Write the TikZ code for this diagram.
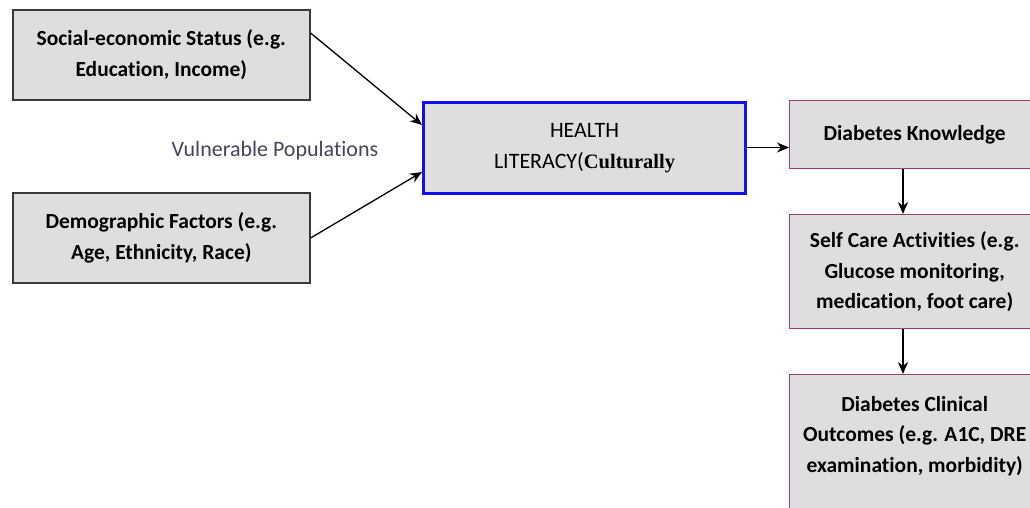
\documentclass[tikz,border=0pt]{standalone}
\usepackage{fontspec}
\setmainfont[Ligatures=NoCommon]{Carlito}
\newfontfamily\serifb{Liberation Serif}
\usetikzlibrary{arrows.meta,calc}
\definecolor{boxfill}{HTML}{DEDEDE}
\definecolor{leftborder}{HTML}{3A3A3A}
\definecolor{rightborder}{HTML}{A03A6E}
\definecolor{hlblue}{HTML}{1010F0}
\definecolor{vulncol}{HTML}{44445E}
\tikzset{
  basebox/.style={rectangle, fill=boxfill, align=center, inner sep=0pt,
    font=\fontsize{21.5}{30.5}\selectfont\bfseries, anchor=north west},
  leftbox/.style={basebox, draw=leftborder, line width=1.6pt,
    minimum width=297pt, minimum height=90pt},
  hlbox/.style={basebox, draw=hlblue, line width=3pt,
    minimum width=322pt, minimum height=91pt, font=\fontsize{22}{31}\selectfont},
  rightbox/.style={basebox, draw=rightborder, line width=1.4pt, minimum width=250pt},
  conn/.style={line width=1.3pt, -{Stealth[length=12pt,width=10pt]}}
}
\begin{document}
\begin{tikzpicture}[x=1pt,y=-1pt]
\useasboundingbox (0,0) rectangle (1030,508);
\clip (0,0) rectangle (1030,508);
\fill[white] (0,0) rectangle (1030,508);

\node[leftbox] (ses) at (12,9) {Social-economic Status (e.g.\\Education, Income)};
\node[leftbox] (demo) at (12,192) {Demographic Factors (e.g.\\Age, Ethnicity, Race)};
\node[hlbox] (hl) at (422,101) {HEALTH\\LITERACY({\serifb\bfseries\fontsize{20.5}{31}\selectfont Culturally}};
\node[font=\fontsize{22}{24}\selectfont, text=vulncol] (vuln) at (275,151) {Vulnerable Populations};

\node[rightbox, minimum height=68pt] (dk) at (789,100) {Diabetes Knowledge};
\node[rightbox, minimum height=114pt] (sc) at (789,214) {Self Care Activities (e.g.\\Glucose monitoring,\\medication, foot care)};
\node[rightbox, minimum height=150pt] (dco) at (789,374) {Diabetes Clinical\\Outcomes (e.g. A1C, DRE\\examination, morbidity)\\~};

\draw[conn] ($(ses.north east)+(0,24)$) -- ($(hl.west)+(0,-23)$);
\draw[conn] ($(demo.north east)+(0,46)$) -- ($(hl.west)+(0,24)$);
\draw[conn] ($(hl.east)+(0,-0.5)$) -- (dk.west |- {$(hl.east)+(0,-0.5)$});
\draw[conn] ($(dk.south west)+(114,0)$) -- ($(sc.north west)+(114,0)$);
\draw[conn] ($(sc.south west)+(114,0)$) -- ($(dco.north west)+(114,0)$);
\end{tikzpicture}
\end{document}
